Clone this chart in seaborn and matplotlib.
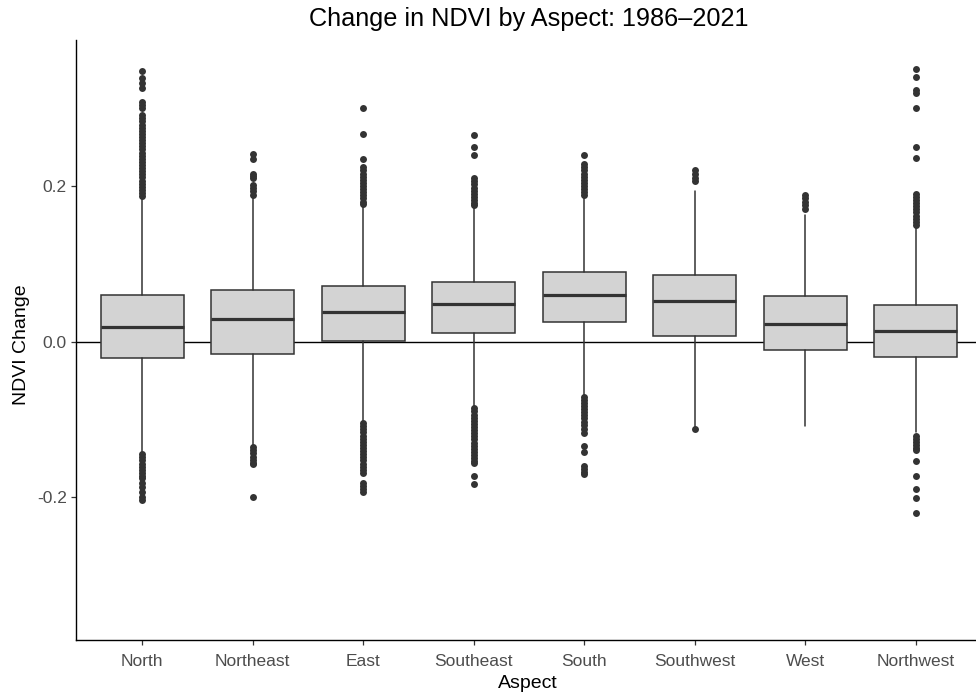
import matplotlib
matplotlib.use("Agg")
import matplotlib.pyplot as plt
import seaborn as sns
import pandas as pd

# ---------------- data ----------------
aspects = ["North", "Northeast", "East", "Southeast", "South", "Southwest", "West", "Northwest"]
q1 = [-0.0217, -0.0165, 0.001, 0.011, 0.0255, 0.0071, -0.011, -0.020]
median = [0.019, 0.0285, 0.038, 0.0486, 0.0594, 0.052, 0.0229, 0.0139]
q3 = [0.060, 0.066, 0.071, 0.0765, 0.0894, 0.086, 0.058, 0.047]
whisker_low = [-0.144, -0.135, -0.104, -0.084, -0.069, -0.110, -0.109, -0.116]
whisker_high = [0.184, 0.188, 0.175, 0.173, 0.187, 0.193, 0.163, 0.147]

outliers_north = [0.348, 0.3385, 0.332, 0.326, 0.308, 0.304, 0.300, 0.291, 0.287, 0.283, 0.279,
                  0.275, 0.271, 0.267, 0.263, 0.259, 0.255, 0.251, 0.247, 0.243, 0.239, 0.235,
                  0.231, 0.227, 0.223, 0.219, 0.215, 0.211, 0.207, 0.203, 0.199, 0.195, 0.191,
                  0.187, -0.145, -0.149, -0.153, -0.157, -0.161, -0.165, -0.169, -0.173, -0.176,
                  -0.182, -0.1875, -0.194, -0.1995, -0.204]
outliers_northeast = [0.2407, 0.2347, 0.216, 0.213, 0.210, 0.201, 0.197, 0.193, 0.189,
                      -0.136, -0.140, -0.144, -0.148, -0.152, -0.156, -0.158, -0.1995]
outliers_east = [0.300, 0.267, 0.2347, 0.224, 0.220, 0.216, 0.212, 0.208, 0.204, 0.200, 0.196,
                 0.192, 0.188, 0.184, 0.180, 0.177, -0.105, -0.109, -0.113, -0.117, -0.121,
                 -0.125, -0.129, -0.133, -0.137, -0.141, -0.145, -0.149, -0.153, -0.157, -0.161,
                 -0.165, -0.169, -0.182, -0.186, -0.190, -0.194]
outliers_southeast = [0.2656, 0.2505, 0.240, 0.210, 0.206, 0.202, 0.198, 0.194, 0.190, 0.186,
                      0.182, 0.178, 0.175, -0.086, -0.090, -0.094, -0.098, -0.102, -0.106,
                      -0.110, -0.114, -0.118, -0.122, -0.126, -0.130, -0.134, -0.138, -0.142,
                      -0.146, -0.150, -0.154, -0.156, -0.1726, -0.1837]
outliers_south = [0.240, 0.228, 0.224, 0.220, 0.216, 0.212, 0.208, 0.204, 0.200, 0.196, 0.192,
                  0.189, -0.071, -0.075, -0.079, -0.083, -0.087, -0.091, -0.095, -0.099, -0.103,
                  -0.107, -0.112, -0.118, -0.135, -0.142, -0.160, -0.164, -0.168, -0.170]
outliers_southwest = [0.220, 0.216, 0.210, 0.207, -0.113]
outliers_west = [0.189, 0.185, 0.180, 0.176, 0.170]
outliers_northwest = [0.3505, 0.3406, 0.3235, 0.319, 0.300, 0.2505, 0.2364, 0.190, 0.186, 0.182,
                      0.178, 0.174, 0.170, 0.166, 0.162, 0.158, 0.154, 0.150, -0.121, -0.125,
                      -0.129, -0.133, -0.137, -0.140, -0.154, -0.173, -0.190, -0.201, -0.220]

y_ticks = [-0.2, 0.0, 0.2]
y_tick_labels = ["-0.2", "0.0", "0.2"]

# ---------------- style ----------------
sns.set_theme(style="ticks")
plt.rcParams['font.family'] = ['Liberation Sans', 'DejaVu Sans']

fig = plt.figure(figsize=(9.76, 6.98), dpi=100)
ax = fig.add_axes([76 / 976, 58 / 698, (982 - 76) / 976, 600 / 698])

ax.axhline(0, color="black", lw=1.0, zorder=1)

stats = [dict(label=a, q1=lo, med=m, q3=hi, whislo=wl, whishi=wh, fliers=[])
         for a, lo, m, hi, wl, wh in zip(aspects, q1, median, q3, whisker_low, whisker_high)]
ax.bxp(stats, positions=list(range(len(aspects))), widths=0.75, patch_artist=True,
       showcaps=False, showfliers=False, manage_ticks=False,
       boxprops=dict(facecolor="#D3D3D3", edgecolor="#333333", linewidth=1.1),
       medianprops=dict(color="#333333", linewidth=2.3, solid_capstyle="butt"),
       whiskerprops=dict(color="#333333", linewidth=1.1), zorder=2)

all_out = [outliers_north, outliers_northeast, outliers_east, outliers_southeast,
           outliers_south, outliers_southwest, outliers_west, outliers_northwest]
df = pd.DataFrame({
    "Aspect": [a for a, vals in zip(aspects, all_out) for _ in vals],
    "value": [v for vals in all_out for v in vals],
})
sns.stripplot(data=df, x="Aspect", y="value", order=aspects, jitter=False,
              color="#333333", size=5.0, linewidth=0, ax=ax, zorder=3)

ax.set_xlim(-0.6, 7.6)
ax.set_ylim(-0.3839, 0.3878)
ax.set_xticks(range(len(aspects)))
ax.set_xticklabels(aspects)
ax.set_yticks(y_ticks)
ax.set_yticklabels(y_tick_labels)
ax.set_xlabel("")
ax.set_ylabel("")

for s in ["top", "right"]:
    ax.spines[s].set_visible(False)
for s in ["left", "bottom"]:
    ax.spines[s].set_color("black")
    ax.spines[s].set_linewidth(1.0)

ax.tick_params(axis="both", length=3.5, width=0.9, color="#333333",
               labelcolor="#4D4D4D", labelsize=12.5)
ax.tick_params(axis="x", pad=6.5)
ax.tick_params(axis="y", pad=3)

fig.text(529 / 976, 1 - 19 / 698, "Change in NDVI by Aspect: 1986–2021",
         ha="center", va="center", fontsize=18.2, color="black")
fig.text(528 / 976, 1 - 683 / 698, "Aspect", ha="center", va="center",
         fontsize=14, color="black")
fig.text(22 / 976, 1 - 345 / 698, "NDVI Change", ha="center", va="center",
         rotation=90, fontsize=14, color="black")

fig.savefig("out.png", dpi=100)
